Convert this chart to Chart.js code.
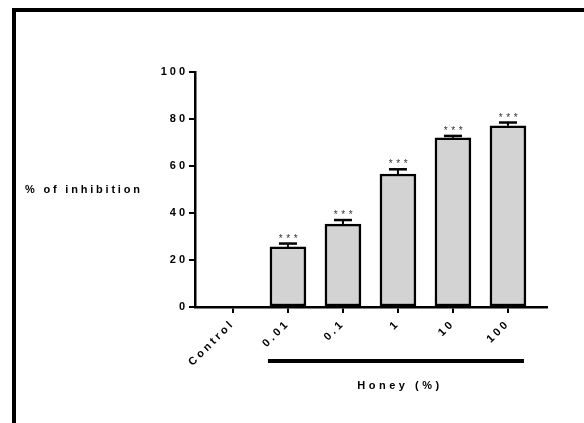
<!DOCTYPE html>
<html>
<head>
<meta charset="utf-8">
<script src="https://cdn.jsdelivr.net/npm/chart.js@4.4.1/dist/chart.umd.min.js"></script>
<style>
  html, body { margin: 0; padding: 0; background: #fff; }
  canvas { display: block; }
</style>
</head>
<body>
<canvas id="chart" width="584" height="423"></canvas>
<script>
// dados
const categories = ['Control', '0.01', '0.1', '1', '10', '100'];
const inhibition = [0, 25.6, 35.3, 56.6, 72.0, 77.1];
const sem = [0, 1.4, 1.7, 2.0, 0.8, 1.4];
const stars = ['', '***', '***', '***', '***', '***'];
const yTicks = [0, 20, 40, 60, 80, 100];
const groupLabel = 'Honey (%)';
const yLabel = '% of inhibition';

const fontFamily = '"Liberation Sans", Arial, sans-serif';

// moldura, barras de erro, asteriscos e rótulos extras
const extras = {
  id: 'extras',
  beforeDraw(chart) {
    const ctx = chart.ctx;
    ctx.save();
    ctx.fillStyle = '#000';
    ctx.fillRect(12, 8, 4, chart.height);
    ctx.fillRect(12, 8, chart.width, 4);
    ctx.restore();
    ctx.letterSpacing = '3px';
  },
  afterDatasetsDraw(chart) {
    const ctx = chart.ctx;
    const y = chart.scales.y;
    const meta = chart.getDatasetMeta(0);
    ctx.save();
    inhibition.forEach((v, i) => {
      if (!v) return;
      const x = meta.data[i].x;
      const yBar = y.getPixelForValue(v);
      const yTop = y.getPixelForValue(v + sem[i]);
      ctx.strokeStyle = '#000';
      ctx.lineWidth = 2;
      ctx.beginPath();
      ctx.moveTo(x, yBar);
      ctx.lineTo(x, yTop);
      ctx.stroke();
      ctx.lineWidth = 2.5;
      ctx.beginPath();
      ctx.moveTo(x - 9, yTop);
      ctx.lineTo(x + 9, yTop);
      ctx.stroke();
      ctx.fillStyle = '#333';
      ctx.font = '10px ' + fontFamily;
      ctx.letterSpacing = '3.5px';
      ctx.textAlign = 'center';
      ctx.textBaseline = 'alphabetic';
      ctx.fillText(stars[i], x + 2, yTop - 2);
    });
    ctx.restore();
  },
  afterDraw(chart) {
    const ctx = chart.ctx;
    const xs = chart.scales.x;
    const area = chart.chartArea;
    ctx.save();
    ctx.fillStyle = '#000';
    const x1 = xs.getPixelForValue(1) - 20;
    const x2 = xs.getPixelForValue(categories.length - 1) + 16;
    ctx.fillRect(x1, area.bottom + 52, x2 - x1, 4);
    ctx.font = 'bold 11px ' + fontFamily;
    ctx.letterSpacing = '3.5px';
    ctx.textAlign = 'center';
    ctx.textBaseline = 'middle';
    ctx.fillText(groupLabel, (x1 + x2) / 2 + 4, area.bottom + 79);
    ctx.letterSpacing = '2.8px';
    ctx.textAlign = 'left';
    ctx.fillText(yLabel, 25, chart.scales.y.getPixelForValue(50));
    ctx.restore();
  }
};

new Chart(document.getElementById('chart'), {
  type: 'bar',
  data: {
    datasets: [{
      data: inhibition.map((v, i) => ({ x: i, y: v || null })),
      backgroundColor: '#d3d3d3',
      borderColor: '#000',
      borderWidth: 2.5,
      borderSkipped: false,
      barThickness: 36
    }]
  },
  options: {
    responsive: false,
    animation: false,
    layout: { padding: { left: 0, top: 72, right: 37, bottom: 0 } },
    plugins: { legend: { display: false }, tooltip: { enabled: false } },
    scales: {
      x: {
        type: 'linear',
        offset: false,
        min: -0.69,
        max: categories.length - 1 + 0.71,
        afterBuildTicks: s => { s.ticks = categories.map((c, i) => ({ value: i })); },
        afterFit: s => { s.height = 116; },
        border: { color: '#000', width: 2.5 },
        grid: { offset: false, drawOnChartArea: false, drawTicks: true, tickLength: 6, color: '#000', lineWidth: 2 },
        ticks: {
          autoSkip: false,
          minRotation: 45,
          maxRotation: 45,
          padding: 4,
          color: '#000',
          font: { family: fontFamily, size: 11, weight: 'bold' },
          callback: v => categories[v]
        }
      },
      y: {
        min: 0,
        max: 100,
        afterBuildTicks: s => { s.ticks = yTicks.map(v => ({ value: v })); },
        afterFit: s => { s.width = 195; },
        border: { color: '#000', width: 2.5 },
        grid: { drawOnChartArea: false, drawTicks: true, tickLength: 6, color: '#000', lineWidth: 2 },
        ticks: {
          padding: 1,
          color: '#000',
          font: { family: fontFamily, size: 11, weight: 'bold' }
        }
      }
    }
  },
  plugins: [extras]
});
</script>
</body>
</html>
